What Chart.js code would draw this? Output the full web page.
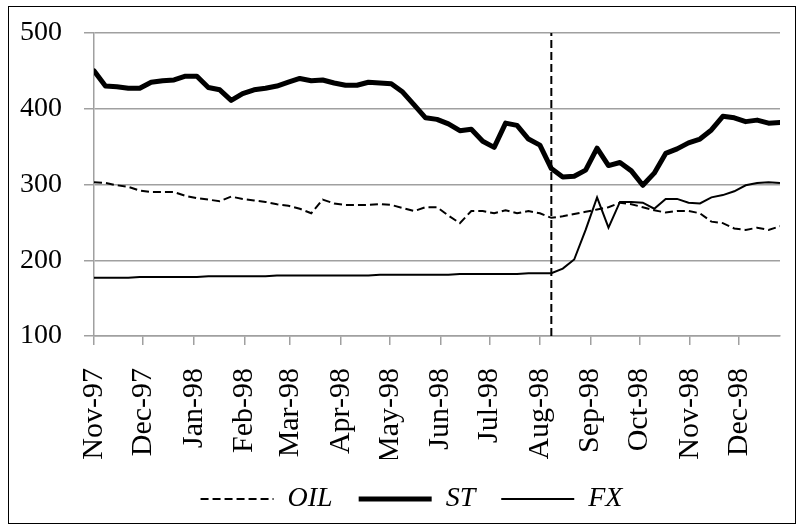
<!DOCTYPE html>
<html>
<head>
<meta charset="utf-8">
<script src="https://cdn.jsdelivr.net/npm/chart.js@4.4.1/dist/chart.umd.min.js"></script>
<style>
  body { margin: 0; background: #fff; }
  #frame {
    position: absolute; left: 8px; top: 6px;
    width: 786px; height: 516px;
    border: 1.5px solid #000;
  }
  #wrap { position: relative; width: 786px; height: 516px; }
</style>
</head>
<body>
<div id="frame"><div id="wrap"><canvas id="myChart"></canvas></div></div>
<script>
// weekly observations
const dates = [
  '1997-11-01','1997-11-08','1997-11-15','1997-11-22','1997-11-29',
  '1997-12-06','1997-12-13','1997-12-20','1997-12-27',
  '1998-01-03','1998-01-10','1998-01-17','1998-01-24','1998-01-31',
  '1998-02-07','1998-02-14','1998-02-21','1998-02-28',
  '1998-03-07','1998-03-14','1998-03-21','1998-03-28',
  '1998-04-04','1998-04-11','1998-04-18','1998-04-25',
  '1998-05-02','1998-05-09','1998-05-16','1998-05-23','1998-05-30',
  '1998-06-06','1998-06-13','1998-06-20','1998-06-27',
  '1998-07-04','1998-07-11','1998-07-18','1998-07-25',
  '1998-08-01','1998-08-08','1998-08-15','1998-08-22','1998-08-29',
  '1998-09-05','1998-09-12','1998-09-19','1998-09-26',
  '1998-10-03','1998-10-10','1998-10-17','1998-10-24','1998-10-31',
  '1998-11-07','1998-11-14','1998-11-21','1998-11-28',
  '1998-12-05','1998-12-12','1998-12-19','1998-12-26'
];

const oil = [303,302,299,297,292, 290,290,290,285,282, 280,278,284,281,279,
  277,274,272,268,262, 280,275,273,273,273, 274,273,269,265,270,
  270,259,249,265,265, 262,266,262,265,262, 256,258,261,264,267,
  270,276,274,270,266, 263,265,265,262,251, 249,242,240,243,240, 245];

const st = [450,430,429,427,427, 435,437,438,443,443, 428,425,411,420,425,
  427,430,435,440,437, 438,434,431,431,435, 434,433,422,405,388,
  386,380,371,373,357, 349,381,378,360,352, 321,310,311,319,348,
  325,329,318,299,315, 341,347,355,360,372, 390,388,383,385,381, 382];

const fx = [177,177,177,177,178, 178,178,178,178,178, 179,179,179,179,179,
  179,180,180,180,180, 180,180,180,180,180, 181,181,181,181,181,
  181,181,182,182,182, 182,182,182,183,183, 183,189,201,240,283,
  243,277,277,276,268, 281,281,276,275,283, 286,291,299,302,303, 302];

// month tick marks
const monthStarts = ['1997-11-01','1997-12-01','1998-01-01','1998-02-01','1998-03-01',
  '1998-04-01','1998-05-01','1998-06-01','1998-07-01','1998-08-01','1998-09-01',
  '1998-10-01','1998-11-01','1998-12-01'];
const monthLabels = ['Nov-97','Dec-97','Jan-98','Feb-98','Mar-98','Apr-98','May-98',
  'Jun-98','Jul-98','Aug-98','Sep-98','Oct-98','Nov-98','Dec-98'];

const eventDate = '1998-08-08';

const toDay = s => (Date.parse(s) - Date.parse(dates[0])) / 864e5;
const series = vals => dates.map((d, i) => ({x: toDay(d), y: vals[i]}));

const gray = '#a0a0a0';

Chart.defaults.font.family = "'Liberation Serif', serif";
Chart.defaults.font.size = 28;
Chart.defaults.color = '#000';

//nudges the legend to the right like in the original
const legendShift = {
  id: 'legendShift',
  afterLayout: (chart) => {
    chart.legend.left += 17;
    chart.legend.right += 17;
  }
};

const config = {
  type: 'line',
  data: {
    datasets: [
      {label: 'OIL', data: series(oil), borderColor: '#000', borderWidth: 2,
       borderDash: [8, 4], pointRadius: 0, tension: 0},
      {label: 'ST', data: series(st), borderColor: '#000', borderWidth: 5,
       borderJoinStyle: 'round', borderCapStyle: 'round', pointRadius: 0, tension: 0},
      {label: 'FX', data: series(fx), borderColor: '#000', borderWidth: 2,
       pointRadius: 0, tension: 0},
      //crisis marker
      {label: 'event', data: [{x: toDay(eventDate), y: 100}, {x: toDay(eventDate), y: 500}],
       borderColor: '#000', borderWidth: 2, borderDash: [8, 4], pointRadius: 0}
    ]
  },
  plugins: [legendShift],
  options: {
    responsive: true,
    maintainAspectRatio: false,
    animation: false,
    layout: {padding: {left: 0, right: 15, top: 26, bottom: 0}},
    scales: {
      x: {
        type: 'linear',
        min: 0,
        max: toDay(dates[dates.length - 1]),
        afterBuildTicks: scale => {
          scale.ticks = monthStarts.map(d => ({value: toDay(d)}));
        },
        afterFit: scale => {
          scale.height = 123;
          scale.paddingLeft = 0;
          scale.paddingRight = 0;
        },
        ticks: {
          autoSkip: false,
          maxRotation: 90,
          minRotation: 90,
          padding: 23,
          font: {size: 30},
          callback: (value, index) => monthLabels[index]
        },
        grid: {drawOnChartArea: false, drawTicks: true, tickLength: 9,
               color: gray, lineWidth: 1.5},
        border: {display: true, color: gray, width: 1.5}
      },
      y: {
        min: 100,
        max: 500,
        afterFit: scale => {
          scale.width = 85;
          scale.paddingTop = 0;
          scale.paddingBottom = 0;
        },
        ticks: {stepSize: 100, padding: 22},
        grid: {color: gray, lineWidth: 1.5, tickLength: 10},
        border: {display: true, color: gray, width: 1.5}
      }
    },
    plugins: {
      legend: {
        position: 'bottom',
        labels: {
          filter: item => item.datasetIndex < 3,
          usePointStyle: true,
          pointStyle: 'line',
          pointStyleWidth: 73,
          padding: 26,
          font: {style: 'italic', size: 28},
          generateLabels: (chart) => {
            const items = Chart.defaults.plugins.legend.labels.generateLabels(chart);
            items.forEach(it => {
              const ds = chart.data.datasets[it.datasetIndex];
              it.lineDash = ds.borderDash || [];
              it.lineWidth = ds.borderWidth;
              it.lineCap = 'butt';
            });
            return items;
          }
        }
      },
      tooltip: {enabled: false}
    }
  }
};

const ctx = document.getElementById('myChart').getContext('2d');
const myChart = new Chart(ctx, config);
</script>
</body>
</html>
